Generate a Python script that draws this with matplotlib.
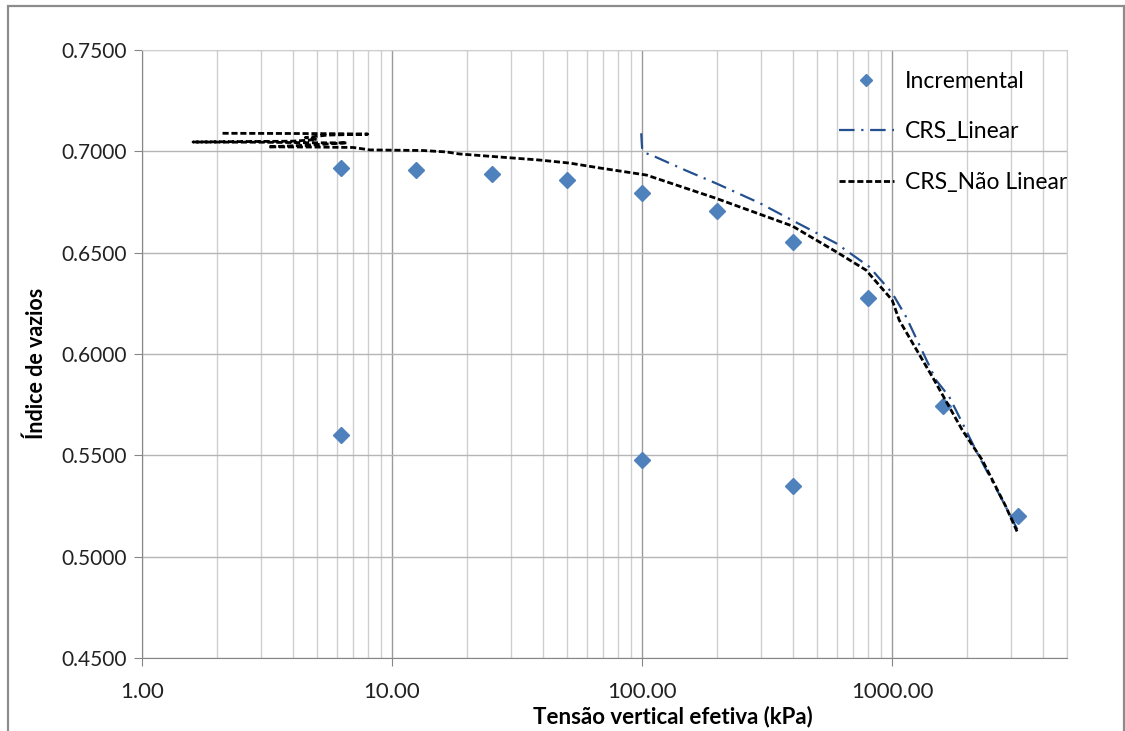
import matplotlib
matplotlib.use("Agg")
import matplotlib.pyplot as plt
from matplotlib.patches import Rectangle
from matplotlib.ticker import FixedLocator, FuncFormatter, LogLocator, NullFormatter

plt.rcParams['font.family'] = ['Lato', 'DejaVu Sans']

# Ensaio incremental (tensao em kPa, indice de vazios)
inc_tensao = [6.25, 12.5, 25, 50, 100, 200, 400, 800, 1600, 3200, 400, 100, 6.25]
inc_vazios = [0.6918, 0.6908, 0.6888, 0.6859, 0.6794, 0.6706, 0.6553, 0.6276, 0.5743, 0.5201,
              0.5349, 0.5477, 0.5600]

# CRS - linear
lin_tensao = [99.2, 99.6, 100.1, 104, 111, 150, 197.7, 294.8, 398, 596, 810, 1000, 1136,
              1496, 1691, 2228, 2754, 3221]
lin_vazios = [0.7089, 0.7050, 0.7007, 0.6990, 0.6977, 0.6905, 0.6842, 0.6745, 0.6660, 0.6547,
              0.6430, 0.6301, 0.6184, 0.5872, 0.5789, 0.5493, 0.5280, 0.5117]

# CRS - nao linear
nl_tensao = [2.1, 4.0, 6.0, 8.0, 5.5, 4.5, 5.0, 4.0, 1.6, 3.0, 5.0, 6.6, 4.5, 3.2, 5.0, 7.0,
             8.15, 13.3, 16.5, 18.6, 26.9, 38.9, 51.3, 67.6, 104, 197.7, 398, 596, 786,
             1000, 1067, 1472, 1906, 2291, 2849, 3161]
nl_vazios = [0.7089, 0.7088, 0.7087, 0.7085, 0.7080, 0.7068, 0.7058, 0.7050, 0.7046, 0.7045,
             0.7042, 0.7042, 0.7030, 0.7022, 0.7021, 0.7019, 0.7007, 0.7004, 0.6997, 0.6987,
             0.6972, 0.6957, 0.6942, 0.6918, 0.6883, 0.6768, 0.6632, 0.6505, 0.6414, 0.6266,
             0.6167, 0.5872, 0.5625, 0.5477, 0.5247, 0.5123]

fig = plt.figure(figsize=(11.25, 7.31), dpi=100)
ax = fig.add_axes([0.1262, 0.0999, 0.8222, 0.8317])

# moldura do grafico
fig.patches.append(Rectangle((8 / 1125, -0.05), 1116 / 1125, 1 - 6 / 731 + 0.05,
                             transform=fig.transFigure, fill=False, edgecolor='#8c8c8c',
                             linewidth=1.6, zorder=0))

ax.plot(inc_tensao, inc_vazios, linestyle='none', marker='D', markersize=8,
        color='#4F81BD', label='Incremental', zorder=3)
ax.plot(lin_tensao, lin_vazios, linestyle=(0, (7, 3, 1, 3)), linewidth=1.6,
        color='#24508F', label='CRS_Linear', zorder=4)
ax.plot(nl_tensao, nl_vazios, linestyle=(0, (2.2, 1)), linewidth=2.0,
        color='black', label='CRS_Não Linear', zorder=5)

ax.set_xscale('log')
ax.set_xlim(1, 5000)
ax.set_ylim(0.45, 0.75)
ax.yaxis.set_major_locator(FixedLocator([0.45, 0.50, 0.55, 0.60, 0.65, 0.70, 0.75]))
ax.yaxis.set_major_formatter(FuncFormatter(lambda v, p: f'{v:.4f}'))
ax.xaxis.set_major_locator(FixedLocator([1, 10, 100, 1000]))
ax.xaxis.set_major_formatter(FuncFormatter(lambda v, p: f'{v:.2f}'))
ax.xaxis.set_minor_locator(LogLocator(base=10, subs=range(2, 10)))
ax.xaxis.set_minor_formatter(NullFormatter())

ax.grid(which='major', axis='x', color='#9a9a9a', linewidth=1.0)
ax.grid(which='minor', axis='x', color='#cfcfcf', linewidth=1.0)
ax.grid(which='major', axis='y', color='#b5b5b5', linewidth=1.0)
ax.set_axisbelow(True)

for s in ['top', 'right']:
    ax.spines[s].set_color('#cfcfcf')
for s in ['left', 'bottom']:
    ax.spines[s].set_color('#868686')
ax.tick_params(axis='both', which='major', length=6, color='#868686',
               labelcolor='#222222', pad=6)
ax.tick_params(axis='y', labelsize=15, pad=5)
ax.tick_params(axis='x', which='minor', length=0)
ax.tick_params(axis='x', which='major', labelsize=16, pad=11)

ax.set_xlabel('Tensão vertical efetiva (kPa)', fontsize=16, fontweight='bold', labelpad=3,
              x=0.574)
ax.set_ylabel('Índice de vazios', fontsize=15.5, fontweight='bold', labelpad=10, y=0.485)

ax.legend(loc='upper left', bbox_to_anchor=(0.731, 1.0), frameon=False, fontsize=16.5,
          labelspacing=1.3, handlelength=2.4, handletextpad=0.5, markerscale=0.8)

fig.savefig('out.png', dpi=100)
